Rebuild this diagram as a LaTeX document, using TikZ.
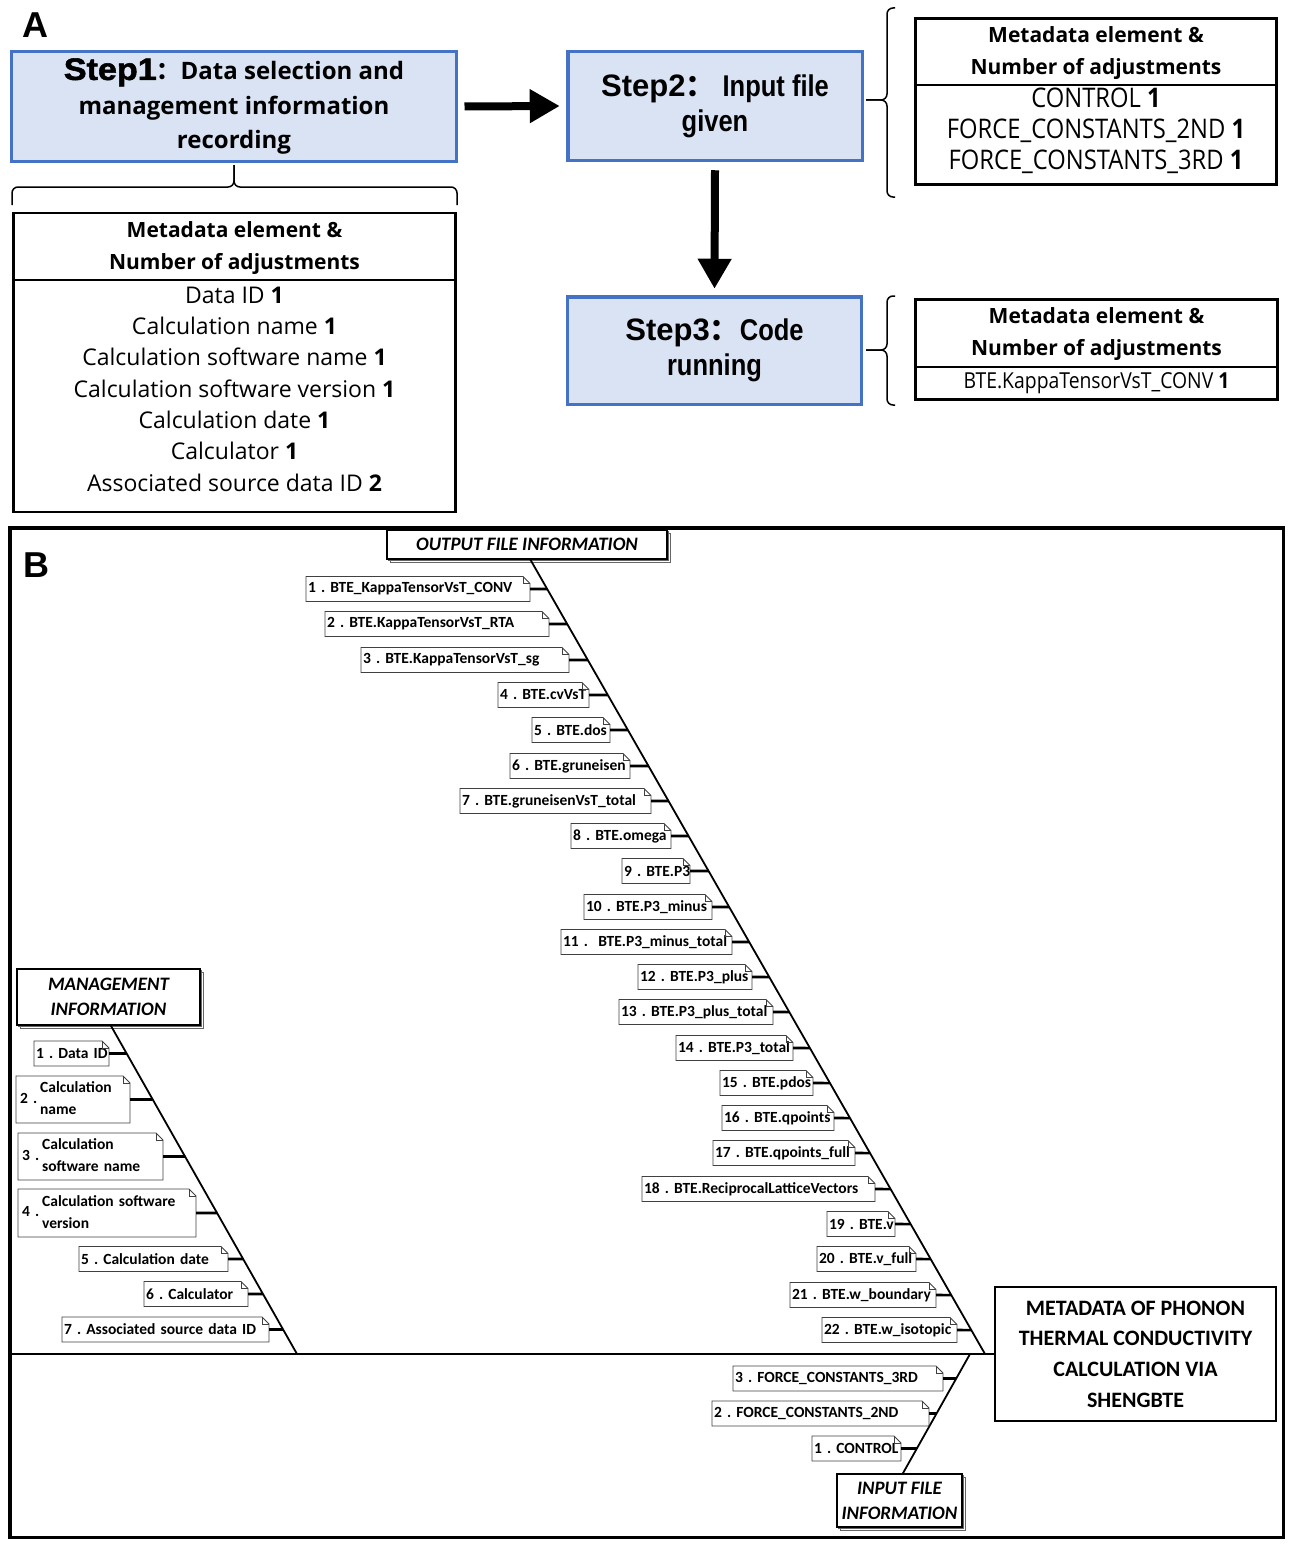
\documentclass[tikz,border=0pt]{standalone}
\usepackage{fontspec}
\setmainfont{Carlito}
\newfontfamily\cjk{Noto Sans CJK SC}
\newfontfamily\osans{Open Sans}
\newfontfamily\osnarrow[FakeStretch=0.88]{Open Sans}
\newfontfamily\lsans{Liberation Sans}
\newfontfamily\arialn[FakeStretch=0.85]{Liberation Sans}
\newfontfamily\arialw[FakeStretch=1.1,FakeBold=1.8]{Liberation Sans}
\usetikzlibrary{arrows.meta,shadows,calc,intersections}
\definecolor{stepblue}{RGB}{68,114,196}
\definecolor{stepfill}{RGB}{218,227,243}
\newcommand\fishitem[7]{%
  \pgfmathsetmacro\fiw{#4-#3-4}%
  \node[notebox, text width=\fiw pt, minimum height=#5pt, anchor=west] (#1) at (#3,#2) {\mbox{#7}};%
  \draw[noteline] (#1.north west) -- ([xshift=-7pt]#1.north east) -- ([yshift=-7pt]#1.north east) -- (#1.south east) -- (#1.south west) -- cycle;%
  \draw[noteline] ([xshift=-7pt]#1.north east) |- ([yshift=-7pt]#1.north east);%
  \path[name path=#1h] (#1.east) -- ([xshift=300pt]#1.east);%
  \path[name intersections={of=#6 and #1h, by=#1d}];%
  \draw[tick] (#1.east) -- (#1d);%
}
\newcommand\twoline[3]{\hspace{2pt}#1\hspace{3pt}\begin{tabular}[c]{@{}l@{}}#2\\#3\end{tabular}}
\begin{document}
\begin{tikzpicture}[x=1pt,y=-1pt,
  stepbox/.style={draw=stepblue, fill=stepfill, line width=3.5pt, align=center, inner sep=0pt, outer sep=0pt},
  tabframe/.style={draw=black, line width=2.8pt, inner sep=0pt, outer sep=0pt},
  tabhead/.style={align=center, inner sep=0pt, font={\osans\bfseries\fontsize{21}{32}\selectfont}},
  bigarrow/.style={line width=8pt, -{Triangle[length=30pt,width=32pt]}},
  bracel/.style={line width=1.5pt, rounded corners=6pt},
  notebox/.style={inner xsep=2pt, inner ysep=0pt, outer sep=0pt, align=left, font={\frenchspacing\bfseries\fontsize{15.5}{22}\selectfont}},
  noteline/.style={draw=black!75, line width=0.9pt},
  tick/.style={line width=2.6pt},
  spine/.style={line width=2.6pt},
  diag/.style={line width=1.8pt},
  headbox/.style={draw, line width=1.3pt, fill=white, align=center, inner sep=0pt, outer sep=0pt,
    font={\bfseries\itshape\fontsize{19}{25}\selectfont},
    double copy shadow={shadow xshift=1.6pt, shadow yshift=-1.6pt, draw=black!60, line width=1pt, fill=white}},
]
\useasboundingbox (0,0) rectangle (1291,1552);

% ---------------- Part A ----------------
\node[font={\lsans\bfseries\fontsize{36}{40}\selectfont}] (labA) at (35,25) {A};

\node[stepbox, minimum width=445pt, minimum height=110pt, font={\osans\bfseries\fontsize{24}{34.5}\selectfont}] (s1) at (234,106.5)
  {{\arialw\fontsize{31}{34.5}\selectfont Step1}{\cjk\bfseries ：}Data selection and\\management information\\recording};
\node[stepbox, minimum width=294.5pt, minimum height=108.5pt, font={\arialn\bfseries\fontsize{30}{35}\selectfont}] (s2) at (715,106)
  {{\lsans\fontsize{31}{35}\selectfont Step2}{\cjk\bfseries ：}\ Input file\\given};
\node[stepbox, minimum width=294pt, minimum height=107.5pt, font={\arialn\bfseries\fontsize{30}{35}\selectfont}] (s3) at (714.5,350.5)
  {{\lsans\fontsize{31}{35}\selectfont Step3}{\cjk\bfseries ：}Code\\running};

\draw[bigarrow] ([xshift=8pt]s1.east) -- ([xshift=-8pt]s2.west);
\draw[bigarrow] ([yshift=-10pt]s2.south) -- ([yshift=8pt]s3.north);

% braces
\draw[bracel] (12,205) -- (12,187) -- (234,187) -- (234,165);
\draw[bracel] (457,205) -- (457,187) -- (234,187) -- (234,165);
\draw[bracel] (895,8) -- (887,8) -- (887,100) -- (866,100);
\draw[bracel] (895,197) -- (887,197) -- (887,100) -- (866,100);
\draw[bracel] (895,296) -- (887,296) -- (887,350) -- (866,350);
\draw[bracel] (895,405) -- (887,405) -- (887,350) -- (866,350);

% table 1
\node[tabframe, minimum width=442pt, minimum height=67pt] (t1h) at (234.5,246.5) {};
\node[tabframe, minimum width=442pt, minimum height=232pt] (t1b) at (234.5,396) {};
\node[tabhead] (t1ht) at (234.5,248) {Metadata element \&\\Number of adjustments};
\node[align=center, inner sep=0pt, font={\osans\fontsize{23}{31.3}\selectfont}] (t1bt) at (234.5,389)
  {Data ID \textbf{1}\\Calculation name \textbf{1}\\Calculation software name \textbf{1}\\Calculation software version \textbf{1}\\Calculation date \textbf{1}\\Calculator \textbf{1}\\Associated source data ID \textbf{2}};

% table 2
\node[tabframe, minimum width=361pt, minimum height=66.5pt] (t2h) at (1096,51.75) {};
\node[tabframe, minimum width=361pt, minimum height=99.5pt] (t2b) at (1096,134.75) {};
\node[tabhead] (t2ht) at (1096,53.5) {Metadata element \&\\Number of adjustments};
\node[align=center, inner sep=0pt, font={\osnarrow\fontsize{27}{31}\selectfont}] (t2bt) at (1096,131)
  {CONTROL \textbf{1}\\FORCE\_CONSTANTS\_2ND \textbf{1}\\FORCE\_CONSTANTS\_3RD \textbf{1}};

% table 3
\node[tabframe, minimum width=362pt, minimum height=67.5pt] (t3h) at (1096.5,333.25) {};
\node[tabframe, minimum width=362pt, minimum height=32.5pt] (t3b) at (1096.5,383.25) {};
\node[tabhead] (t3ht) at (1096.5,334.5) {Metadata element \&\\Number of adjustments};
\node[align=center, inner sep=0pt, font={\osnarrow\fontsize{22}{28}\selectfont}] (t3bt) at (1096.5,383)
  {BTE.KappaTensorVsT\_CONV \textbf{1}};

% ---------------- Part B ----------------
\draw[line width=3.5pt] (9.75,527.75) rectangle (1283.25,1537.25);
\node[font={\lsans\bfseries\fontsize{36}{40}\selectfont}] (labB) at (36,565) {B};

\node[draw, line width=2.5pt, minimum width=281pt, minimum height=134pt, align=center, inner sep=0pt,
  font={\bfseries\fontsize{22}{30.7}\selectfont}] (res) at (1135.5,1354)
  {METADATA OF PHONON\\THERMAL CONDUCTIVITY\\CALCULATION VIA\\SHENGBTE};

\coordinate (spL) at (11.5,1354);
\coordinate (obot) at (985,1354);
\coordinate (mbot) at (297,1354);
\coordinate (ibot) at (970,1354);
\draw[spine] (spL) -- (res.west);

\node[headbox, minimum width=280pt, minimum height=29pt] (ohead) at (527,544.5) {OUTPUT FILE INFORMATION};
\node[headbox, minimum width=183pt, minimum height=56pt] (mhead) at (108.5,997) {MANAGEMENT\\INFORMATION};
\node[headbox, minimum width=125pt, minimum height=53pt] (ihead) at (899.5,1500.5) {INPUT FILE\\INFORMATION};

\draw[diag, name path=odiag] ([xshift=3pt]ohead.south) -- (obot);
\draw[diag, name path=mdiag] ([xshift=2pt]mhead.south) -- (mbot);
\draw[diag, name path=idiag] ([xshift=3pt]ihead.north) -- (ibot);

\fishitem{o1}{589}{306}{530}{25}{odiag}{1 . BTE\_KappaTensorVsT\_CONV}
\fishitem{o2}{624}{325}{549}{25}{odiag}{2 . BTE.KappaTensorVsT\_RTA}
\fishitem{o3}{660}{361}{569}{25}{odiag}{3 . BTE.KappaTensorVsT\_sg}
\fishitem{o4}{695}{498}{589}{25}{odiag}{4 . BTE.cvVsT}
\fishitem{o5}{730}{532}{610}{25}{odiag}{5 . BTE.dos}
\fishitem{o6}{766}{510}{630}{25}{odiag}{6 . BTE.gruneisen}
\fishitem{o7}{801}{460}{651}{25}{odiag}{7 . BTE.gruneisenVsT\_total}
\fishitem{o8}{836}{571}{671}{25}{odiag}{8 . BTE.omega}
\fishitem{o9}{871}{622}{690}{25}{odiag}{9 . BTE.P3}
\fishitem{o10}{907}{584}{712}{25}{odiag}{10 . BTE.P3\_minus}
\fishitem{o11}{942}{561}{732}{25}{odiag}{11 .\ \ BTE.P3\_minus\_total}
\fishitem{o12}{977}{638}{752}{25}{odiag}{12 . BTE.P3\_plus}
\fishitem{o13}{1012}{619}{773}{25}{odiag}{13 . BTE.P3\_plus\_total}
\fishitem{o14}{1048}{676}{793}{25}{odiag}{14 . BTE.P3\_total}
\fishitem{o15}{1083}{720}{813}{25}{odiag}{15 . BTE.pdos}
\fishitem{o16}{1118}{722}{834}{25}{odiag}{16 . BTE.qpoints}
\fishitem{o17}{1153}{713}{855}{25}{odiag}{17 . BTE.qpoints\_full}
\fishitem{o18}{1189}{642}{875}{25}{odiag}{18 . BTE.ReciprocalLatticeVectors}
\fishitem{o19}{1224}{827}{895}{25}{odiag}{19 . BTE.v}
\fishitem{o20}{1259}{817}{916}{25}{odiag}{20 . BTE.v\_full}
\fishitem{o21}{1295}{790}{936}{25}{odiag}{21 . BTE.w\_boundary}
\fishitem{o22}{1330}{822}{957}{25}{odiag}{22 . BTE.w\_isotopic}

\fishitem{i3}{1378.5}{733}{943}{25}{idiag}{3 . FORCE\_CONSTANTS\_3RD}
\fishitem{i2}{1413.5}{712}{929}{25}{idiag}{2 . FORCE\_CONSTANTS\_2ND}
\fishitem{i1}{1448.5}{812}{901}{25}{idiag}{1 . CONTROL}

\fishitem{m1}{1053.5}{34}{109}{25}{mdiag}{1 . Data ID}
\fishitem{m2}{1099.5}{16}{130}{47}{mdiag}{\twoline{2 .}{Calculation}{name}}
\fishitem{m3}{1156.5}{18}{163}{47}{mdiag}{\twoline{3 .}{Calculation}{software name}}
\fishitem{m4}{1213}{18}{196}{48}{mdiag}{\twoline{4 .}{Calculation software}{version}}
\fishitem{m5}{1259}{79}{228}{25}{mdiag}{5 . Calculation date}
\fishitem{m6}{1294}{144}{248}{25}{mdiag}{6 . Calculator}
\fishitem{m7}{1329.5}{62}{269}{25}{mdiag}{7 . Associated source data ID}
\end{tikzpicture}
\end{document}
